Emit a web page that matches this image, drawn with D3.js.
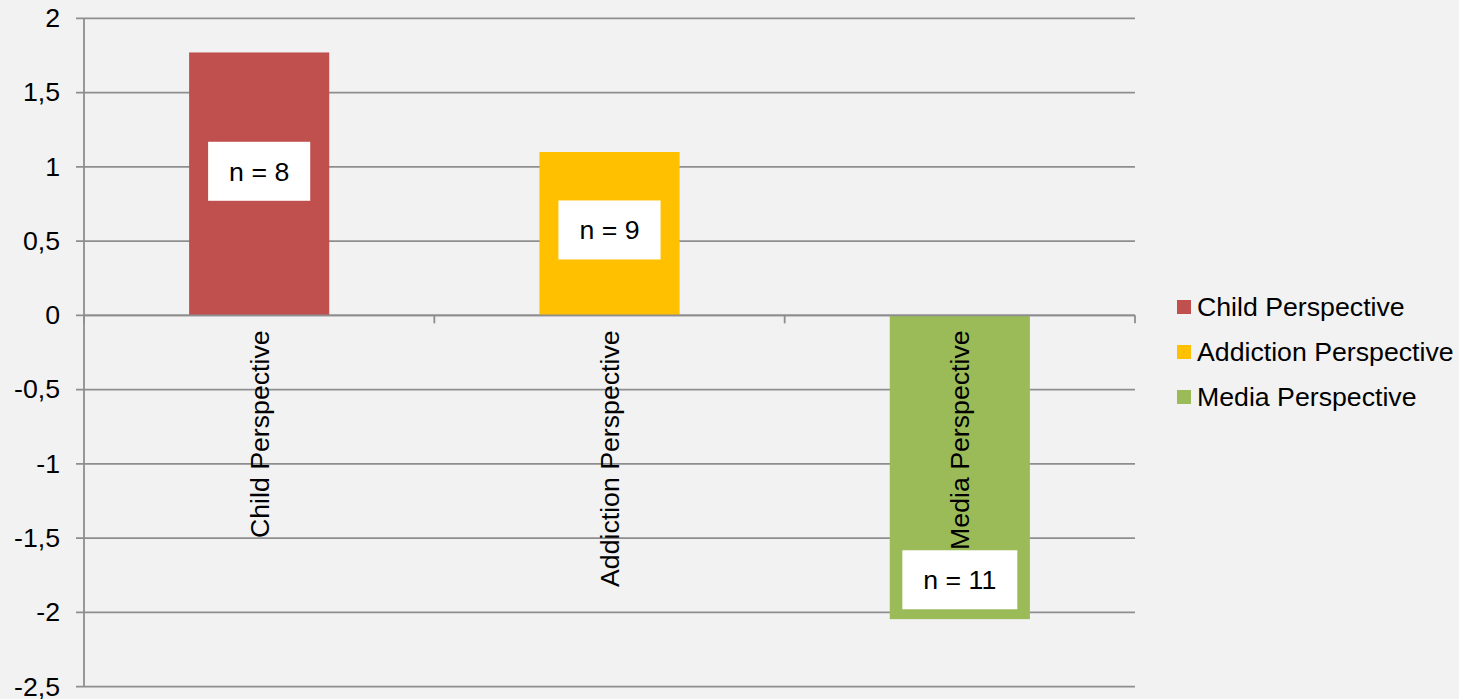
<!DOCTYPE html>
<html>
<head>
<meta charset="utf-8">
<script src="https://cdn.jsdelivr.net/npm/d3@7/dist/d3.min.js"></script>
<style>
  html, body { margin: 0; padding: 0; background: #f2f2f2; }
  svg { display: block; font-family: "Liberation Sans", Arial, sans-serif; }
</style>
</head>
<body>
<svg id="chart" width="1459" height="699"></svg>
<script>
// Mean scores per perspective
const categories = ["Child Perspective", "Addiction Perspective", "Media Perspective"];
const values = [1.77, 1.1, -2.045];
const colors = ["#c0504d", "#ffc000", "#9bbb59"];
// Sample size boxes and the value level each box is centred on
const sampleLabels = ["n = 8", "n = 9", "n = 11"];
const sampleAt = [0.97, 0.575, -1.78];
const yTicks = [2, 1.5, 1, 0.5, 0, -0.5, -1, -1.5, -2, -2.5];

const svg = d3.select("#chart");
const plot = { left: 84, right: 1135, top: 18.3, bottom: 686.7 };
const fontSize = 26.7;
const gridColor = "#8e8e8e";

const x = d3.scaleBand()
  .domain(categories)
  .range([plot.left, plot.right])
  .paddingInner(0.6)
  .paddingOuter(0.3);

const y = d3.scaleLinear()
  .domain([-2.5, 2])
  .range([plot.bottom, plot.top]);

const fmt = v => String(v).replace(".", ",");

// Horizontal gridlines with short ticks left of the value axis
const grid = svg.append("g");
grid.selectAll("line")
  .data(yTicks)
  .join("line")
  .attr("x1", plot.left - 8)
  .attr("x2", plot.right)
  .attr("y1", d => y(d))
  .attr("y2", d => y(d))
  .attr("stroke", gridColor)
  .attr("stroke-width", 1.8);

// Value axis labels
svg.append("g")
  .selectAll("text")
  .data(yTicks)
  .join("text")
  .attr("x", 60)
  .attr("y", d => y(d))
  .attr("dy", "0.33em")
  .attr("text-anchor", "end")
  .attr("font-size", fontSize)
  .attr("fill", "#000")
  .text(fmt);

// Bars
svg.append("g")
  .selectAll("rect")
  .data(values)
  .join("rect")
  .attr("x", (d, i) => x(categories[i]))
  .attr("width", x.bandwidth())
  .attr("y", d => y(Math.max(0, d)))
  .attr("height", d => Math.abs(y(d) - y(0)))
  .attr("fill", (d, i) => colors[i]);

// Vertical value axis line
svg.append("line")
  .attr("x1", plot.left).attr("x2", plot.left)
  .attr("y1", plot.top).attr("y2", plot.bottom)
  .attr("stroke", gridColor)
  .attr("stroke-width", 1.8);

// Category axis along zero with tick marks at slot boundaries
svg.append("line")
  .attr("x1", plot.left).attr("x2", plot.right)
  .attr("y1", y(0)).attr("y2", y(0))
  .attr("stroke", gridColor)
  .attr("stroke-width", 1.8);
const step = x.step();
const bounds = d3.range(categories.length + 1).map(i => plot.left + i * step);
svg.append("g")
  .selectAll("line")
  .data(bounds)
  .join("line")
  .attr("x1", d => d).attr("x2", d => d)
  .attr("y1", y(0)).attr("y2", y(0) + 8)
  .attr("stroke", gridColor)
  .attr("stroke-width", 1.8);

// Rotated category labels below the zero line
svg.append("g")
  .selectAll("text")
  .data(categories)
  .join("text")
  .attr("transform", d => `translate(${x(d) + x.bandwidth() / 2},${y(0) + 15}) rotate(-90)`)
  .attr("text-anchor", "end")
  .attr("dy", "0.35em")
  .attr("font-size", fontSize)
  .attr("fill", "#000")
  .text(d => d);

// White sample-size boxes
const boxes = svg.append("g")
  .selectAll("g")
  .data(sampleLabels)
  .join("g")
  .attr("transform", (d, i) => `translate(${x(categories[i]) + x.bandwidth() / 2},${y(sampleAt[i])})`);
boxes.append("rect").attr("fill", "#fff");
boxes.append("text")
  .attr("text-anchor", "middle")
  .attr("dy", "0.35em")
  .attr("font-size", fontSize)
  .attr("fill", "#000")
  .text(d => d);
boxes.each(function () {
  const g = d3.select(this);
  const w = g.select("text").node().getComputedTextLength() + 42;
  g.select("rect")
    .attr("x", -w / 2).attr("width", w)
    .attr("y", -29.5).attr("height", 59);
});

// Legend
const legend = svg.append("g")
  .selectAll("g")
  .data(categories)
  .join("g")
  .attr("transform", (d, i) => `translate(1177,${307 + i * 45})`);
legend.append("rect")
  .attr("x", 0).attr("y", -7)
  .attr("width", 14).attr("height", 14)
  .attr("fill", (d, i) => colors[i]);
legend.append("text")
  .attr("x", 20)
  .attr("dy", "0.35em")
  .attr("font-size", fontSize)
  .attr("fill", "#000")
  .text(d => d);
</script>
</body>
</html>
